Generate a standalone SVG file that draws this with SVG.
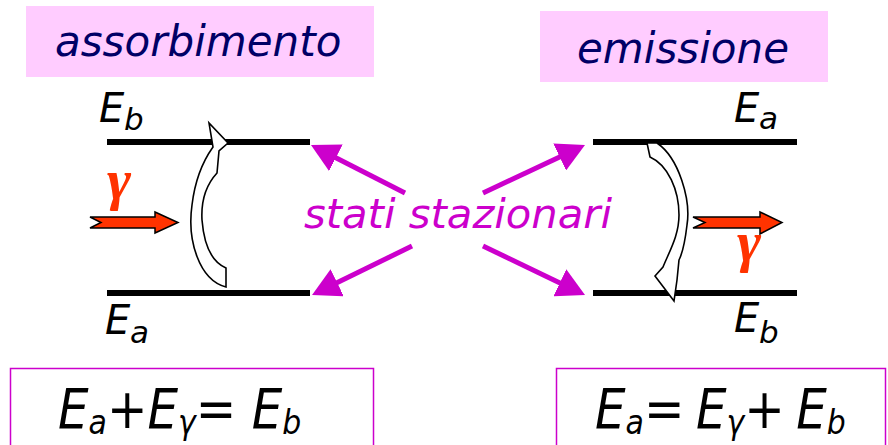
<svg xmlns="http://www.w3.org/2000/svg" width="888" height="445" viewBox="0 0 888 445">
  <style>
    .title { font-family: "DejaVu Sans", Verdana, sans-serif; font-style: italic; font-size: 42px; fill: #000066; }
    .titlebox { fill: #FFCCFF; stroke: none; }
    .lvl { stroke: #000; stroke-width: 6; fill: none; }
    .E { font-family: "DejaVu Sans", Verdana, sans-serif; font-style: italic; font-size: 40px; fill: #000; }
    .sub { font-size: 31px; }
    .gam { font-family: "Liberation Serif", "Times New Roman", serif; font-style: italic; font-weight: bold; font-size: 58px; fill: #FF3300; }
    .photon { fill: #FF3300; stroke: #000; stroke-width: 1.5; stroke-linejoin: miter; }
    .curv { fill: #fff; stroke: #000; stroke-width: 1.6; stroke-linejoin: miter; }
    .mag { stroke: #CC00CC; stroke-width: 5; fill: none; }
    .stati { font-family: "DejaVu Sans", Verdana, sans-serif; font-style: italic; font-size: 41.7px; fill: #CC00CC; }
    .eqbox { fill: #fff; stroke: #CC00CC; stroke-width: 1.5; }
    .eq { font-family: "DejaVu Sans", Verdana, sans-serif; font-style: italic; font-size: 55px; fill: #000; }
    .eqs { font-size: 34px; }
  </style>
  <defs>
    <marker id="mhead" viewBox="0 0 28 30" refX="10" refY="15" markerWidth="28" markerHeight="30" markerUnits="userSpaceOnUse" orient="auto">
      <path d="M0,0 L28,15 L0,30 Z" fill="#CC00CC"/>
    </marker>
  </defs>

  <g id="title-assorbimento">
    <rect class="titlebox" x="26" y="6" width="348" height="71"/>
    <text class="title" x="55" y="56">assorbimento</text>
  </g>
  <g id="title-emissione">
    <rect class="titlebox" x="540" y="11" width="288" height="71"/>
    <text class="title" x="577" y="63">emissione</text>
  </g>

  <g id="absorption">
    <line class="lvl" x1="107" y1="142" x2="310" y2="142"/>
    <line class="lvl" x1="107" y1="293" x2="310" y2="293"/>
    <text class="E" x="99" y="122">E<tspan class="sub" x="124" y="130">b</tspan></text>
    <text class="E" x="105" y="334">E<tspan class="sub" x="130" y="343">a</tspan></text>
    <text class="gam" x="107" y="199">γ</text>
    <path class="photon" d="M90,217 L155,217 L155,212 L178,222.5 L155,233 L155,228 L90,228 L101,222.5 Z"/>
    <path class="curv" d="M226,287 C199,280 187,240 192,205 C195,180 203,161 213,147 L209,123 L228,143 L219,151 L217,173 C206,185 201,202 202,220 C204,245 212,262 226,268 Z"/>
  </g>

  <g id="emission">
    <line class="lvl" x1="593" y1="142" x2="797" y2="142"/>
    <line class="lvl" x1="593" y1="293" x2="797" y2="293"/>
    <text class="E" x="734" y="122">E<tspan class="sub" x="759" y="129">a</tspan></text>
    <text class="E" x="734" y="332">E<tspan class="sub" x="759" y="343">b</tspan></text>
    <path class="photon" d="M693,217 L760,217 L760,212 L782,222.5 L760,234 L760,228 L693,228 L705,222.5 Z"/>
    <text class="gam" x="737" y="261">γ</text>
    <path class="curv" d="M647,143 L657,143 C679,158 691,200 687,225 C685,242 682,254 679,260 L677,280 L674,301 L655,276 L663,267 C670,250 679,235 679,215 C679,190 668,165 650,157 Z"/>
  </g>

  <g id="stati-stazionari">
    <text class="stati" x="304" y="228">stati stazionari</text>
  </g>

  <g id="connectors">
    <line class="mag" x1="405" y1="193" x2="327" y2="153.2" marker-end="url(#mhead)"/>
    <line class="mag" x1="483" y1="193" x2="568.7" y2="152.7" marker-end="url(#mhead)"/>
    <line class="mag" x1="412" y1="246" x2="328.2" y2="287.1" marker-end="url(#mhead)"/>
    <line class="mag" x1="483" y1="246" x2="568.8" y2="287.2" marker-end="url(#mhead)"/>
  </g>

  <g id="eq-absorption">
    <rect class="eqbox" x="10.5" y="368.5" width="363" height="90"/>
    <text class="eq" transform="translate(58,428) scale(0.88,1)" x="0" y="0">E<tspan class="eqs" dy="6">a</tspan><tspan dy="-6">+E</tspan><tspan class="eqs" dy="6">γ</tspan><tspan dy="-6">= E</tspan><tspan class="eqs" dy="6">b</tspan></text>
  </g>
  <g id="eq-emission">
    <rect class="eqbox" x="556.5" y="368.5" width="329" height="90"/>
    <text class="eq" transform="translate(595,428) scale(0.88,1)" x="0" y="0">E<tspan class="eqs" dy="6">a</tspan><tspan dy="-6">=</tspan><tspan dx="13">E</tspan><tspan class="eqs" dy="6">γ</tspan><tspan dy="-6">+</tspan><tspan dx="13">E</tspan><tspan class="eqs" dy="6">b</tspan></text>
  </g>
</svg>
